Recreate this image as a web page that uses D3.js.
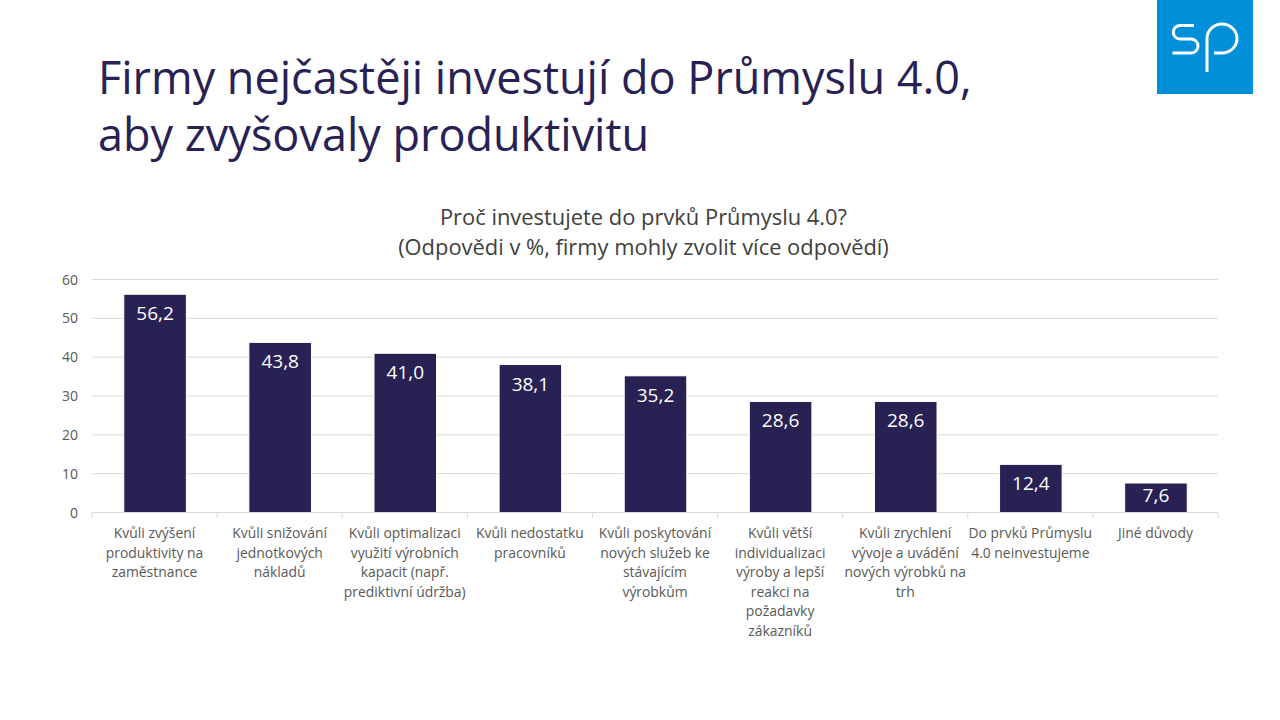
<!DOCTYPE html>
<html><head><meta charset="utf-8">
<script src="https://cdn.jsdelivr.net/npm/d3@7"></script>
<style>html,body{margin:0;padding:0;background:#fff}svg{display:block}text{font-family:"Open Sans","Noto Sans",sans-serif}</style>
</head><body><div id="c"></div>
<script>
const categories=["Kvůli zvýšení produktivity na zaměstnance","Kvůli snižování jednotkových nákladů","Kvůli optimalizaci využití výrobních kapacit (např. prediktivní údržba)","Kvůli nedostatku pracovníků","Kvůli poskytování nových služeb ke stávajícím výrobkům","Kvůli větší individualizaci výroby a lepší reakci na požadavky zákazníků","Kvůli zrychlení vývoje a uvádění nových výrobků na trh","Do prvků Průmyslu 4.0 neinvestujeme","Jiné důvody"];
const categoryLines=[["Kvůli zvýšení","produktivity na","zaměstnance"],["Kvůli snižování","jednotkových","nákladů"],["Kvůli optimalizaci","využití výrobních","kapacit (např.","prediktivní údržba)"],["Kvůli nedostatku","pracovníků"],["Kvůli poskytování","nových služeb ke","stávajícím","výrobkům"],["Kvůli větší","individualizaci","výroby a lepší","reakci na","požadavky","zákazníků"],["Kvůli zrychlení","vývoje a uvádění","nových výrobků na","trh"],["Do prvků Průmyslu","4.0 neinvestujeme"],["Jiné důvody"]];
const values=[56.2,43.8,41.0,38.1,35.2,28.6,28.6,12.4,7.6];
const yTicks=[0,10,20,30,40,50,60];
const titleLines=["Firmy nejčastěji investují do Průmyslu 4.0,","aby zvyšovaly produktivitu"];
const subtitleLines=["Proč investujete do prvků Průmyslu 4.0?","(Odpovědi v %, firmy mohly zvolit více odpovědí)"];

const svg=d3.select("#c").append("svg").attr("width",1280).attr("height",720);
const navy="#282153",grey="#595959",grid="#d9d9d9";
const x=d3.scaleBand().domain(categories).range([92.5,1218.5]).paddingInner(0.5).paddingOuter(0.25);
const band=d3.scaleBand().domain(categories).range([92,1218]);
const y=d3.scaleLinear().domain([0,60]).range([512.5,279.5]);

// title
svg.append("g").selectAll("text").data(titleLines).join("text")
 .attr("x",98).attr("y",(d,i)=>93.5+i*57).attr("font-size",45).attr("fill",navy).text(d=>d);
svg.append("g").selectAll("text").data(subtitleLines).join("text")
 .attr("x",643.5).attr("y",(d,i)=>225+i*29.5).attr("text-anchor","middle").attr("font-size",21.9).attr("fill","#404040").text(d=>d);

// logo
svg.append("rect").attr("x",1157).attr("y",0).attr("width",96).attr("height",94).attr("fill","#0090d9");
const logo=svg.append("g").attr("fill","none").attr("stroke","#fff").attr("stroke-width",3);
logo.append("path").attr("d","M1194 25.5H1180A6.75 6.75 0 0 0 1180 39H1191A7 7 0 0 1 1191 53H1172.5");
logo.append("path").attr("d","M1207 72V38.5A15 14.5 0 1 1 1222 53H1214");

// grid and y labels
svg.append("g").selectAll("line").data(yTicks.filter(d=>d>0)).join("line")
 .attr("x1",92).attr("x2",1218).attr("y1",d=>y(d)).attr("y2",d=>y(d)).attr("stroke",grid);
svg.append("g").selectAll("text").data(yTicks).join("text")
 .attr("x",78).attr("y",d=>y(d)+5).attr("text-anchor","end").attr("font-size",14).attr("fill",grey).text(d=>d);

// bars
svg.append("g").selectAll("rect").data(values).join("rect")
 .attr("x",(d,i)=>x(categories[i])).attr("y",d=>y(d)).attr("width",x.bandwidth()).attr("height",d=>y(0)-y(d))
 .attr("fill",navy).attr("stroke","#fff").attr("stroke-width",1);
svg.append("g").selectAll("text").data(values).join("text")
 .attr("x",(d,i)=>x(categories[i])+x.bandwidth()/2).attr("y",d=>Math.min(y(d)+26,y(0)-11)).attr("text-anchor","middle")
 .attr("font-size",19).attr("fill","#fff").text(d=>d.toFixed(1).replace(".",","));

// x axis
svg.append("line").attr("x1",92).attr("x2",1218).attr("y1",512.5).attr("y2",512.5).attr("stroke",grid);
svg.append("g").selectAll("line").data(d3.range(10)).join("line")
 .attr("x1",i=>92+i*band.step()).attr("x2",i=>92+i*band.step()).attr("y1",512.5).attr("y2",518).attr("stroke",grid);
const lab=svg.append("g").selectAll("text").data(categoryLines).join("text")
 .attr("text-anchor","middle").attr("font-size",13.9).attr("fill",grey);
lab.selectAll("tspan").data((d,i)=>d.map(t=>({t,i}))).join("tspan")
 .attr("x",d=>band(categories[d.i])+band.bandwidth()/2).attr("y",(d,j)=>538+j*19.5).text(d=>d.t);
</script></body></html>
